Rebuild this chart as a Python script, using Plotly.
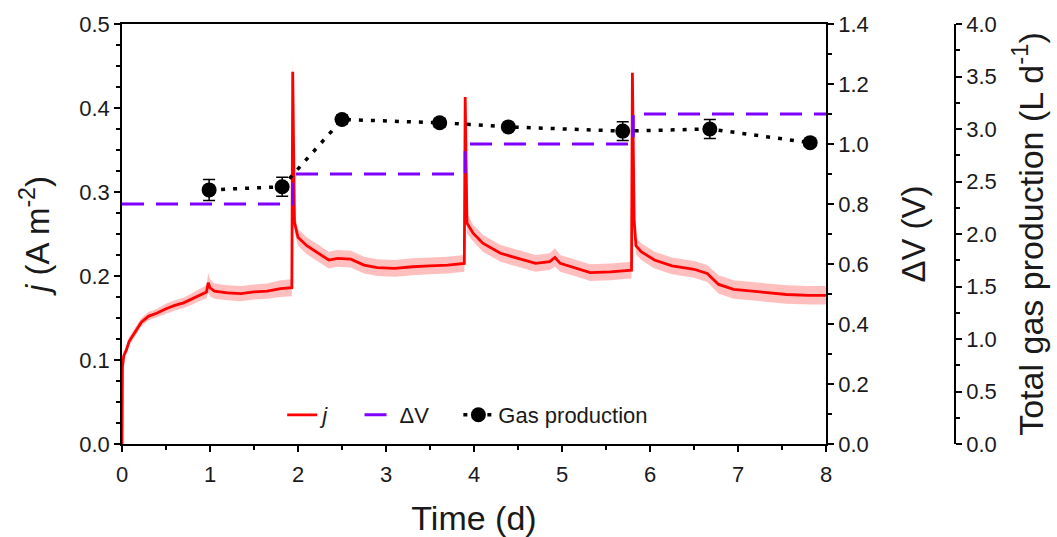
import plotly.graph_objects as go

# Current density j (A m^-2) vs time (d), with standard deviation band
t_j = [0.0, 0.005, 0.02, 0.05, 0.08, 0.15, 0.22, 0.3, 0.4, 0.5, 0.6, 0.7, 0.8, 0.9,
       0.96, 0.98, 1.0, 1.05, 1.2, 1.35, 1.5, 1.65, 1.8, 1.93,
       1.94, 1.96, 2.0, 2.1, 2.2, 2.35, 2.45, 2.6, 2.75, 2.9, 3.1, 3.3, 3.5, 3.7, 3.89,
       3.9, 3.92, 3.99, 4.1, 4.3, 4.5, 4.7, 4.86, 4.92, 4.98, 5.17, 5.32, 5.55, 5.79,
       5.8, 5.82, 5.84, 5.9, 6.05, 6.25, 6.5, 6.65, 6.78, 6.95, 7.25, 7.55, 7.8, 8.0]
j_mean = [0.0, 0.092, 0.105, 0.112, 0.122, 0.134, 0.145, 0.152, 0.156, 0.161, 0.165, 0.168, 0.173, 0.178,
          0.181, 0.192, 0.186, 0.182, 0.180, 0.179, 0.181, 0.182, 0.185, 0.186,
          0.443, 0.264, 0.246, 0.236, 0.229, 0.219, 0.221, 0.220, 0.213, 0.210, 0.209, 0.211, 0.212, 0.213, 0.215,
          0.413, 0.263, 0.251, 0.239, 0.227, 0.221, 0.215, 0.217, 0.222, 0.215, 0.209, 0.204, 0.205, 0.207,
          0.442, 0.267, 0.236, 0.229, 0.219, 0.212, 0.208, 0.203, 0.190, 0.184, 0.181, 0.178, 0.177, 0.177]
j_sd = [0.0, 0.003, 0.004, 0.004, 0.005, 0.005, 0.005, 0.005, 0.005, 0.006, 0.006, 0.006, 0.007, 0.007,
        0.008, 0.012, 0.010, 0.009, 0.009, 0.009, 0.009, 0.009, 0.010, 0.010,
        0.020, 0.012, 0.010, 0.010, 0.010, 0.010, 0.010, 0.010, 0.010, 0.010, 0.010, 0.010, 0.010, 0.010, 0.010,
        0.008, 0.012, 0.010, 0.010, 0.010, 0.010, 0.010, 0.010, 0.011, 0.010, 0.010, 0.010, 0.010, 0.010,
        0.010, 0.012, 0.010, 0.010, 0.010, 0.010, 0.010, 0.010, 0.011, 0.011, 0.011, 0.011, 0.011, 0.011]

# Applied voltage steps
t_dv = [0.0, 1.94, 3.9, 5.81, 8.0]
dv = [0.8, 0.9, 1.0, 1.1, 1.1]

# Total gas production (L d^-1)
t_gas = [0.99, 1.82, 2.5, 3.61, 4.39, 5.69, 6.68, 7.82]
gas = [2.42, 2.45, 3.09, 3.06, 3.02, 2.98, 3.00, 2.87]
gas_err = [0.10, 0.09, 0.04, 0.04, 0.03, 0.09, 0.09, 0.03]

FONT = "Arial, Liberation Sans, sans-serif"
TXT = "#1a1a1a"
GAP = " &nbsp; &nbsp;"

upper = [m + s for m, s in zip(j_mean, j_sd)]
lower = [m - s for m, s in zip(j_mean, j_sd)]

fig = go.Figure()
fig.add_trace(go.Scatter(x=t_j + t_j[::-1], y=upper + lower[::-1], fill="toself",
                         fillcolor="rgba(255,0,0,0.25)", line=dict(width=0),
                         hoverinfo="skip", showlegend=False, yaxis="y"))
fig.add_trace(go.Scatter(x=t_j, y=j_mean, mode="lines", name="<i>j</i>" + GAP,
                         line=dict(color="#ff0000", width=2.8), yaxis="y"))
fig.add_trace(go.Scatter(x=t_dv, y=dv, mode="lines", name="ΔV" + GAP, line_shape="hv",
                         line=dict(color="#7f00ff", width=3, dash="22px,12px"), yaxis="y2"))
fig.add_trace(go.Scatter(x=t_gas, y=gas, mode="lines+markers", name="Gas production",
                         line=dict(color="black", width=3.5, dash="4px,8px"),
                         marker=dict(color="black", size=15),
                         error_y=dict(type="data", array=gas_err, color="black", thickness=1.5, width=6),
                         yaxis="y3"))

axis_common = dict(showline=True, linecolor="black", linewidth=1.5, ticks="outside",
                   ticklen=6, tickwidth=1.5, tickcolor="black", showgrid=False, zeroline=False,
                   automargin=False, tickfont=dict(family=FONT, size=22, color=TXT))

fig.update_layout(
    width=1057, height=537,
    margin=dict(l=122, r=102, t=24, b=93),
    plot_bgcolor="white", paper_bgcolor="white",
    font=dict(family=FONT, color=TXT),
    xaxis=dict(**axis_common, domain=[0, 704 / 833], range=[0, 8], dtick=1, mirror=True,
               ticklabelstandoff=4,
               minor=dict(dtick=0.5, ticklen=4, tickwidth=1.5, tickcolor="black", ticks="outside"),
               title=dict(text="Time (d)", font=dict(family=FONT, size=34, color=TXT), standoff=22)),
    yaxis=dict(**axis_common, range=[0, 0.5], dtick=0.1, tickformat=".1f",
               minor=dict(dtick=0.025, ticklen=4, tickwidth=1.5, tickcolor="black", ticks="outside"),
               title=dict(text="<i>j</i> (A m<sup>-2</sup>)", font=dict(family=FONT, size=33, color=TXT), standoff=20)),
    yaxis2=dict(**axis_common, overlaying="y", side="right", anchor="x", range=[0, 1.4], dtick=0.2,
                tickformat=".1f",
                minor=dict(dtick=0.1, ticklen=4, tickwidth=1.5, tickcolor="black", ticks="outside"),
                title=dict(text="ΔV (V)", font=dict(family=FONT, size=33, color=TXT), standoff=34)),
    yaxis3=dict(**axis_common, overlaying="y", side="right", anchor="free", position=1.0,
                range=[0, 4], dtick=0.5, tickformat=".1f",
                minor=dict(dtick=0.25, ticklen=4, tickwidth=1.5, tickcolor="black", ticks="outside"),
                title=dict(text="Total gas production (L d<sup>-1</sup>)",
                           font=dict(family=FONT, size=34, color=TXT), standoff=22)),
    legend=dict(orientation="h", x=0.415, y=0.069, xanchor="center", yanchor="middle",
                bgcolor="rgba(0,0,0,0)", font=dict(family=FONT, size=22, color=TXT)),
)

fig.write_html("out.html")
